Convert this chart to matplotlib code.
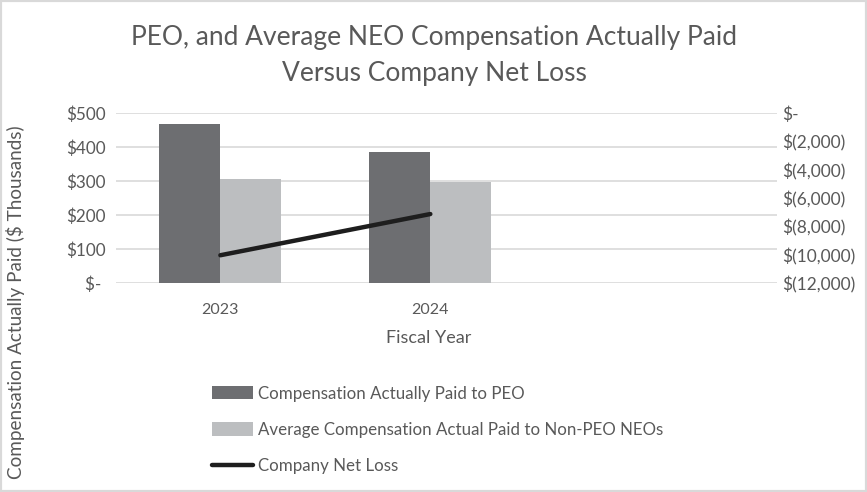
import matplotlib
matplotlib.use("Agg")
import matplotlib.pyplot as plt
from matplotlib.patches import Rectangle, Patch
from matplotlib.lines import Line2D
import numpy as np

plt.rcParams['font.family'] = ['Lato', 'DejaVu Sans']

years = ["2023", "2024"]
peo_cap = [468, 386]            # $ thousands
neo_cap = [307, 298]            # $ thousands
net_loss = [-10020, -7110]      # $ thousands
left_ticks = [0, 100, 200, 300, 400, 500]
right_ticks = [0, -2000, -4000, -6000, -8000, -10000, -12000]

TXT = "#595959"
C_PEO = "#6d6e71"
C_NEO = "#bcbec0"
C_LINE = "#1e1e1e"
GRID = "#d9d9d9"

W, H = 867, 492
fig = plt.figure(figsize=(W/100, H/100), dpi=100)
x0, x1, yt, yb = 116, 777, 113.3, 283.3
ax = fig.add_axes([x0/W, 1 - yb/H, (x1-x0)/W, (yb-yt)/H])

x = np.arange(len(years))
bw = 0.29
ax.bar(x - bw/2, peo_cap, width=bw, color=C_PEO, zorder=2)
ax.bar(x + bw/2, neo_cap, width=bw, color=C_NEO, zorder=2)
ax.set_ylim(0, 500)
ax.set_xlim(-0.497, 2.651)
ax.set_yticks(left_ticks)
ax.set_yticklabels([f"${v}" if v else "$- " for v in left_ticks])
ax.set_xticks(x)
ax.set_xticklabels(years)
ax.yaxis.grid(True, color=GRID, linewidth=1.2, zorder=0)
ax.set_axisbelow(True)
for s in ax.spines.values():
    s.set_visible(False)
ax.tick_params(axis='x', length=0, labelsize=11.5, colors=TXT, pad=14)
ax.tick_params(axis='y', length=0, labelsize=12.3, colors=TXT, pad=7.5)

ax2 = ax.twinx()
ax2.plot(x, net_loss, color=C_LINE, linewidth=3.2, solid_capstyle='round', zorder=3)
ax2.set_ylim(-12000, 0)
ax2.set_yticks(right_ticks)
ax2.set_yticklabels(["$-" if v == 0 else f"$({abs(v):,})" for v in right_ticks])
for s in ax2.spines.values():
    s.set_visible(False)
ax2.tick_params(axis='y', length=0, labelsize=12.5, colors=TXT, pad=4)

fig.text(434/W, 1 - 38/H, "PEO, and Average NEO Compensation Actually Paid",
         ha='center', va='center', fontsize=19, color=TXT)
fig.text(434/W, 1 - 73/H, "Versus Company Net Loss",
         ha='center', va='center', fontsize=19, color=TXT)
fig.text(429/W, 1 - 338/H, "Fiscal Year", ha='center', va='center', fontsize=13, color=TXT)
fig.text(16/W, 1 - 302/H, "Compensation Actually Paid ($ Thousands)", rotation=90,
         ha='center', va='center', fontsize=13.6, color=TXT)

handles = [Patch(facecolor=C_PEO), Patch(facecolor=C_NEO),
           Line2D([0], [0], color=C_LINE, linewidth=3.2, solid_capstyle='round')]
labels = ["Compensation Actually Paid to PEO",
          "Average Compensation Actual Paid to Non-PEO NEOs",
          "Company Net Loss"]
leg = fig.legend(handles, labels, loc='upper left', bbox_to_anchor=(212/W, 1 - 385.5/H),
                 frameon=False, fontsize=12.2, labelcolor=TXT, handlelength=2.4,
                 handleheight=0.85, handletextpad=0.3, labelspacing=1.2,
                 borderpad=0, borderaxespad=0)

fig.patches.append(Rectangle((0, 0), 1, 1, transform=fig.transFigure, fill=False,
                             edgecolor=GRID, linewidth=3))
fig.savefig("out.png", dpi=100)
